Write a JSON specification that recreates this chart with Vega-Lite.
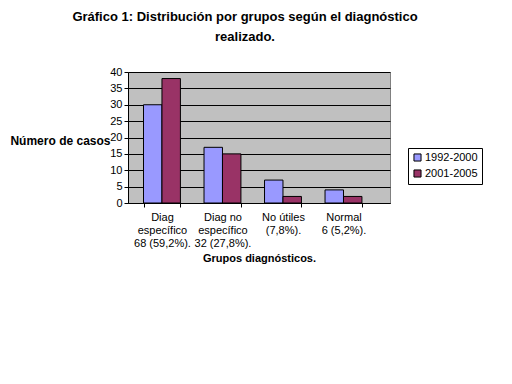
{
  "$schema": "https://vega.github.io/schema/vega-lite/v6.json",
  "width": 262,
  "height": 131,
  "autosize": {"type": "none"},
  "padding": {"left": 128, "top": 72, "right": 122, "bottom": 181},
  "background": "white",
  "title": {
    "text": ["Gráfico 1: Distribución por grupos según el diagnóstico", "realizado."],
    "font": "Liberation Sans",
    "fontSize": 13,
    "fontWeight": "bold",
    "color": "black",
    "anchor": "middle",
    "dx": -14,
    "offset": 22,
    "lineHeight": 20
  },
  "data": {
    "values": [
      {"grupo": "Diag|específico|68 (59,2%).", "periodo": "1992-2000", "casos": 30},
      {"grupo": "Diag|específico|68 (59,2%).", "periodo": "2001-2005", "casos": 38},
      {"grupo": "Diag no|específico|32 (27,8%).", "periodo": "1992-2000", "casos": 17},
      {"grupo": "Diag no|específico|32 (27,8%).", "periodo": "2001-2005", "casos": 15},
      {"grupo": "No útiles|(7,8%).", "periodo": "1992-2000", "casos": 7},
      {"grupo": "No útiles|(7,8%).", "periodo": "2001-2005", "casos": 2},
      {"grupo": "Normal|6 (5,2%).", "periodo": "1992-2000", "casos": 4},
      {"grupo": "Normal|6 (5,2%).", "periodo": "2001-2005", "casos": 2}
    ]
  },
  "mark": {"type": "bar", "stroke": "black", "strokeWidth": 1},
  "encoding": {
    "x": {
      "field": "grupo",
      "type": "nominal",
      "sort": null,
      "scale": {"paddingInner": 0.39, "paddingOuter": 0.36, "align": 0.356},
      "axis": {
        "title": "Grupos diagnósticos.",
        "titleFont": "Liberation Sans",
        "titleFontSize": 11,
        "titleFontWeight": "bold",
        "titleColor": "black",
        "titlePadding": 4,
        "labelExpr": "split(datum.label, '|')",
        "labelAngle": 0,
        "labelFont": "Liberation Sans",
        "labelFontSize": 11,
        "labelColor": "black",
        "labelLineHeight": 13,
        "labelPadding": 4,
        "domainColor": "black",
        "tickColor": "black",
        "ticks": true,
        "tickBand": "extent",
        "tickSize": 4,
        "grid": false
      }
    },
    "xOffset": {"field": "periodo", "type": "nominal", "scale": {"paddingInner": 0}},
    "y": {
      "field": "casos",
      "type": "quantitative",
      "scale": {"domain": [0, 40], "nice": false},
      "axis": {
        "title": "Número de casos",
        "titleAngle": 0,
        "titleAlign": "right",
        "titleBaseline": "middle",
        "titleX": -18,
        "titleY": 68,
        "titleFont": "Liberation Sans",
        "titleFontSize": 12,
        "titleFontWeight": "bold",
        "titleColor": "black",
        "values": [0, 5, 10, 15, 20, 25, 30, 35, 40],
        "labelFont": "Liberation Sans",
        "labelFontSize": 11,
        "labelColor": "black",
        "labelPadding": 2,
        "tickColor": "black",
        "tickSize": 4,
        "domainColor": "black",
        "grid": true,
        "gridColor": "black",
        "gridWidth": 1
      }
    },
    "color": {
      "field": "periodo",
      "type": "nominal",
      "scale": {"domain": ["1992-2000", "2001-2005"], "range": ["#9999FF", "#993366"]},
      "legend": {
        "title": null,
        "orient": "none",
        "legendX": 280,
        "legendY": 76,
        "symbolType": "square",
        "symbolSize": 50,
        "symbolStrokeColor": "black",
        "symbolStrokeWidth": 1,
        "labelFont": "Liberation Sans",
        "labelFontSize": 11,
        "labelColor": "black",
        "strokeColor": "black",
        "fillColor": "white",
        "padding": 4,
        "rowPadding": 3,
        "labelOffset": 2
      }
    }
  },
  "config": {
    "view": {"fill": "#C0C0C0", "stroke": "#808080"}
  }
}
